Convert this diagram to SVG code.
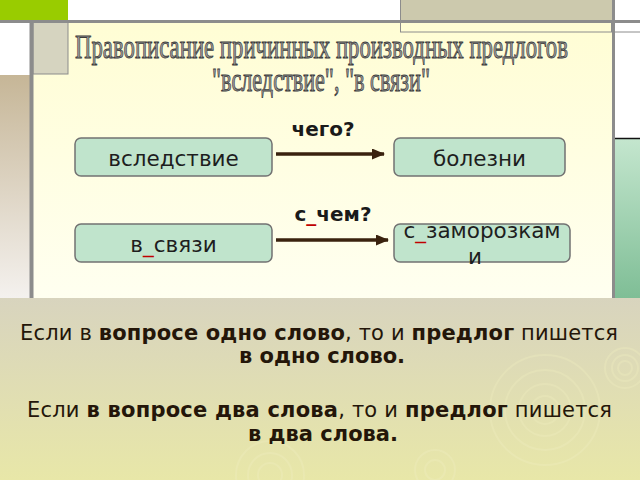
<svg xmlns="http://www.w3.org/2000/svg" width="640" height="480" viewBox="0 0 640 480">
<defs>
<linearGradient id="gPanel" x1="0" y1="0" x2="0" y2="1"><stop offset="0" stop-color="#FFFDD4"/><stop offset="1" stop-color="#FFFFF0"/></linearGradient>
<linearGradient id="gBottom" x1="0" y1="0" x2="0" y2="1"><stop offset="0" stop-color="#D8D4BE"/><stop offset="1" stop-color="#E8E7A8"/></linearGradient>
<linearGradient id="gTan" x1="0" y1="0" x2="0" y2="1"><stop offset="0" stop-color="#C6B697"/><stop offset="1" stop-color="#F4F1EE"/></linearGradient>
<linearGradient id="gGreen" x1="0" y1="0" x2="0" y2="1"><stop offset="0" stop-color="#C4E6CE"/><stop offset="1" stop-color="#7FBE96"/></linearGradient>
<marker id="ah" markerUnits="userSpaceOnUse" markerWidth="13" markerHeight="11" refX="12" refY="5.5" orient="auto"><path d="M0,0 L13,5.5 L0,11 z" fill="#3A220E"/></marker>
<style>
.box{fill:#C0E4CC;stroke:#727272;stroke-width:1.5}
.bt{font-family:"DejaVu Sans",sans-serif;font-size:21.5px;fill:#1E1E1E;text-anchor:middle}
.q{font-family:"DejaVu Sans",sans-serif;font-size:20px;font-weight:bold;fill:#1A1A1A;text-anchor:middle}
.u{fill:#C00000}
.conn{stroke:#3A220E;stroke-width:3.5;fill:none}
.title{font-family:"Liberation Serif",serif;fill:#9C9C9C;stroke:#3C3C3C;stroke-width:0.9;text-anchor:middle}
.rule{font-family:"DejaVu Sans",sans-serif;font-size:21px;fill:#241609;text-anchor:middle}
.b{font-weight:bold}
.rip{fill:none;stroke:#F0EEC0;stroke-width:2;opacity:0.35}
</style>
</defs>
<!-- background frame -->
<rect x="0" y="0" width="640" height="480" fill="#FFFFFF"/>
<rect x="0" y="0" width="68" height="21" fill="#99CC00"/>
<rect x="400" y="0" width="212" height="21" fill="#CCC9AD"/>
<rect x="400.5" y="-1" width="240" height="33" fill="none" stroke="#8C8C8C" stroke-width="1"/>
<rect x="0" y="75" width="30" height="223" fill="url(#gTan)"/>
<rect x="33" y="22" width="579" height="276" fill="url(#gPanel)"/>
<rect x="400.5" y="22" width="211" height="10" fill="none" stroke="#8C8C8C" stroke-width="1"/>
<rect x="33" y="22" width="35" height="52" fill="#D6D4C0" stroke="#8C8C8C" stroke-width="1"/>
<line x1="0" y1="21.5" x2="640" y2="21.5" stroke="#8C8C8C" stroke-width="3"/>
<line x1="31.5" y1="21" x2="31.5" y2="298" stroke="#8C8C8C" stroke-width="4"/>
<line x1="613.5" y1="0" x2="613.5" y2="298" stroke="#8C8C8C" stroke-width="3"/>
<rect x="615" y="139" width="25" height="159" fill="url(#gGreen)"/>
<line x1="615" y1="138.5" x2="640" y2="138.5" stroke="#111111" stroke-width="1.5"/>
<rect x="0" y="298" width="640" height="182" fill="url(#gBottom)"/>
<!-- ripples -->
<g class="rip">
<circle cx="625" cy="368" r="7"/><circle cx="625" cy="368" r="13"/><circle cx="625" cy="368" r="20"/>
<circle cx="545" cy="410" r="14"/><circle cx="545" cy="410" r="26"/><circle cx="545" cy="410" r="40"/><circle cx="545" cy="410" r="55"/>
<circle cx="270" cy="475" r="12"/><circle cx="270" cy="475" r="22"/><circle cx="270" cy="475" r="34"/>
<circle cx="435" cy="470" r="10"/><circle cx="435" cy="470" r="20"/>
</g>
<!-- title -->
<g id="title">
<text class="title" x="321.5" y="58" font-size="34" textLength="493" lengthAdjust="spacingAndGlyphs">Правописание причинных производных предлогов</text>
<text class="title" x="321" y="91" font-size="33" textLength="218" lengthAdjust="spacingAndGlyphs">"вследствие", "в связи"</text>
</g>
<!-- connectors -->
<g id="connectors">
<line class="conn" x1="276" y1="154" x2="384" y2="154" marker-end="url(#ah)"/>
<line class="conn" x1="276" y1="240" x2="388" y2="240" marker-end="url(#ah)"/>
<text class="q" x="323" y="136">чего?</text>
<text class="q" x="333" y="221">с<tspan class="u">_</tspan>чем?</text>
</g>
<!-- nodes -->
<g id="node-vsledstvie">
<rect class="box" x="75" y="138" width="197" height="38" rx="6"/>
<text class="bt" x="173.5" y="166">вследствие</text>
</g>
<g id="node-bolezni">
<rect class="box" x="394" y="138" width="171" height="38" rx="6"/>
<text class="bt" x="479.5" y="166">болезни</text>
</g>
<g id="node-v-svyazi">
<rect class="box" x="75" y="224" width="197" height="38" rx="6"/>
<text class="bt" x="173.5" y="252">в<tspan class="u">_</tspan>связи</text>
</g>
<g id="node-s-zamorozkami">
<rect class="box" x="394" y="224" width="176" height="38" rx="6"/>
<text class="bt" x="482" y="238">с<tspan class="u">_</tspan>заморозкам</text>
<text class="bt" x="475" y="264">и</text>
</g>
<!-- rules -->
<g id="rules">
<text class="rule" x="319" y="340" textLength="598" lengthAdjust="spacing">Если в <tspan class="b">вопросе одно слово</tspan>, то и <tspan class="b">предлог</tspan> пишется</text>
<text class="rule b" x="322" y="363">в одно слово.</text>
<text class="rule" x="319.5" y="417" textLength="585" lengthAdjust="spacing">Если <tspan class="b">в вопросе два слова</tspan>, то и <tspan class="b">предлог</tspan> пишется</text>
<text class="rule b" x="323" y="441">в два слова.</text>
</g>
</svg>
